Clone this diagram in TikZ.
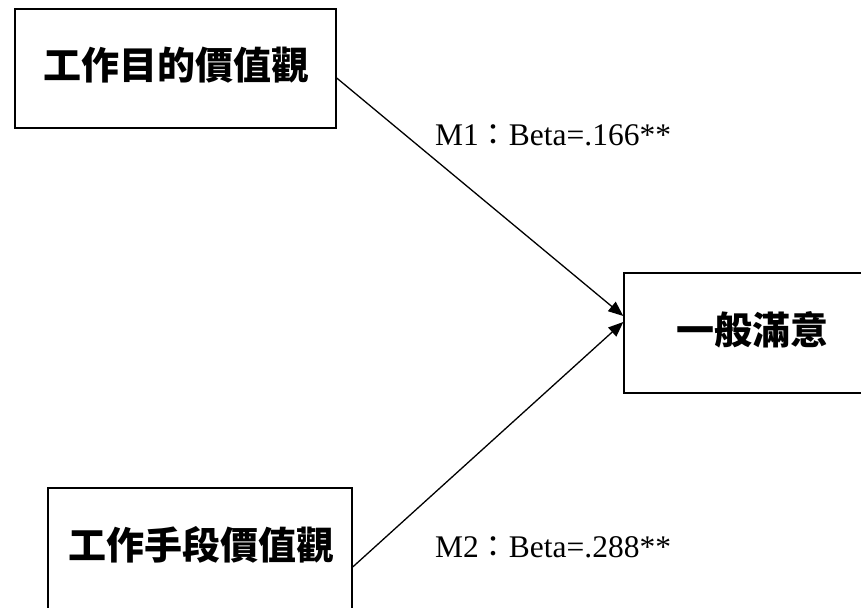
\documentclass[tikz,border=0pt]{standalone}
\usepackage{fontspec}
\setmainfont{Liberation Serif}
\newfontfamily\cjk{Noto Sans CJK TC}
\usetikzlibrary{arrows.meta}
\begin{document}
\begin{tikzpicture}[x=1pt,y=-1pt,
  box/.style={draw=black,line width=1.4pt,inner sep=0pt,rectangle},
  boxtext/.style={inner sep=0pt,font=\cjk\bfseries\fontsize{38}{40}\selectfont},
  lbl/.style={inner sep=0pt,anchor=base west,font=\fontsize{31.5}{33}\selectfont},
  conn/.style={line width=1.3pt,-{Triangle[length=15pt,width=12pt]}}]
\useasboundingbox (0,0) rectangle (861,607);
\clip (0,0) rectangle (861,607);
\node[box,minimum width=321pt,minimum height=119pt] (A) at (175.5,68.5) {};
\node[boxtext] (Atext) at (176,65) {工作目的價值觀};
\node[box,minimum width=300pt,minimum height=120pt] (C) at (774,333) {};
\node[boxtext] (Ctext) at (752.5,330) {一般滿意};
\node[box,minimum width=304pt,minimum height=150pt] (B) at (200,563) {};
\node[boxtext] (Btext) at (201,545) {工作手段價值觀};
\draw[conn] ([yshift=-9.5pt]A.east) -- ([yshift=17pt]C.west);
\draw[conn] ([yshift=-4pt]B.east) -- ([yshift=11pt]C.west);
\node[lbl] (L1) at (435,145) {M1{\cjk\fontsize{30}{32}\selectfont ：}Beta=.166**};
\node[lbl] (L2) at (435,557) {M2{\cjk\fontsize{30}{32}\selectfont ：}Beta=.288**};
\end{tikzpicture}
\end{document}
